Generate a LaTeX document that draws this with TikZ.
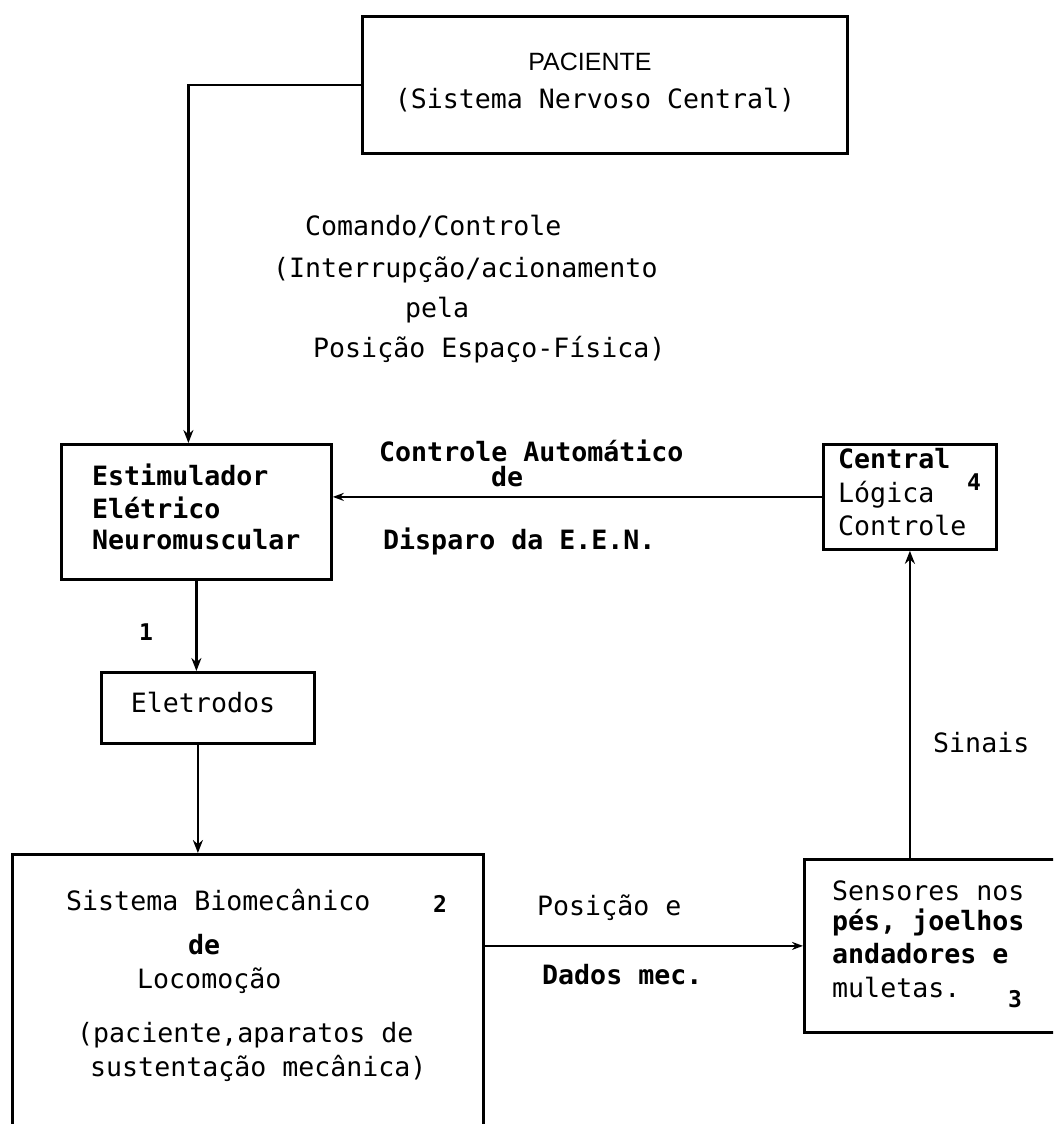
\documentclass[tikz,border=0pt]{standalone}
\usepackage{fontspec}
\setmainfont{Liberation Sans}
\newfontfamily\dm{DejaVu Sans Mono}
\usetikzlibrary{arrows.meta}
\begin{document}
\begin{tikzpicture}[x=1pt,y=-1pt,
  box/.style={draw, line width=2.8pt, rectangle, inner sep=0pt, anchor=north west},
  txt/.style={font=\dm\fontsize{26.6}{30}\selectfont, anchor=west, inner sep=0pt},
  btxt/.style={font=\dm\bfseries\fontsize{26.6}{30}\selectfont, anchor=west, inner sep=0pt},
  num/.style={font=\dm\bfseries\fontsize{23}{26}\selectfont, anchor=west, inner sep=0pt},
  arr/.style={line width=2.6pt, -{Stealth[length=13pt,width=10pt]}},
  harr/.style={line width=2pt, -{Stealth[length=11pt,width=8pt]}}]
\useasboundingbox (0,0) rectangle (1053,1124);
\clip (0,0) rectangle (1053,1124);
\fill[white] (0,0) rectangle (1053,1124);

% boxes
\node[box, minimum width=485pt, minimum height=137pt] (pac) at (361,15) {};
\node[box, minimum width=270pt, minimum height=135pt] (est) at (60,443) {};
\node[box, minimum width=173pt, minimum height=105pt] (cen) at (822,443) {};
\node[box, minimum width=213pt, minimum height=71pt] (ele) at (100,671) {};
\node[box, minimum width=471pt, minimum height=320pt] (sis) at (11,853) {};
\node[box, minimum width=280pt, minimum height=173pt] (sen) at (803,858) {};

% texts
\node[font=\fontsize{25}{28}\selectfont, inner sep=0pt] (t1) at (590,62) {PACIENTE};
\node[txt, anchor=center] (t2) at (595,100) {(Sistema Nervoso Central)};

\node[txt] (c1) at (305,227) {Comando/Controle};
\node[txt] (c2) at (273,270) {(Interrupção/acionamento};
\node[txt] (c3) at (405,310) {pela};
\node[txt] (c4) at (313,350) {Posição Espaço-Física)};

\node[btxt] (e1) at (92,475) {Estimulador};
\node[btxt] (e2) at (92,508) {Elétrico};
\node[btxt] (e3) at (92,540) {Neuromuscular};

\node[btxt] (a1) at (379,451) {Controle Automático};
\node[btxt] (a2) at (491,477) {de};
\node[btxt] (a3) at (383,541) {Disparo da E.E.N.};

\node[btxt] (k1) at (838,459) {Central};
\node[txt] (k2) at (838,495) {Lógica};
\node[txt] (k3) at (838,526) {Controle};
\node[num] (k4) at (967,482) {4};

\node[num] (n1) at (139,632) {1};
\node[txt, anchor=center] (el) at (203,703) {Eletrodos};

\node[txt] (s1) at (66,900) {Sistema Biomecânico};
\node[num] (s2) at (433,904) {2};
\node[btxt] (s3) at (188,945) {de};
\node[txt] (s4) at (137,981) {Locomoção};
\node[txt] (s5) at (77,1035) {(paciente,aparatos de};
\node[txt] (s6) at (90,1068) {sustentação mecânica)};

\node[txt] (p1) at (537,908) {Posição e};
\node[btxt] (p2) at (542,975) {Dados mec.};

\node[txt] (r1) at (832,891) {Sensores nos};
\node[btxt] (r2) at (832,922) {pés, joelhos};
\node[btxt] (r3) at (832,954) {andadores  e};
\node[txt] (r4) at (832,987) {muletas.};
\node[num] (r5) at (1008,999) {3};

\node[txt] (g1) at (933,743) {Sinais};

% connectors
\draw[arr] (pac.west) -| ([xshift=-8pt]est.north);
\draw[harr] (cen.west) -- (cen.west -| est.east);
\draw[arr] (est.south) -- (est.south |- ele.north);
\draw[arr] ([xshift=-10pt]ele.south) -- ([xshift=-10pt]ele.south |- sis.north);
\draw[harr] (sen.west -| sis.east) -- (sen.west);
\draw[arr] (cen.south |- sen.north) -- (cen.south);
\end{tikzpicture}
\end{document}
